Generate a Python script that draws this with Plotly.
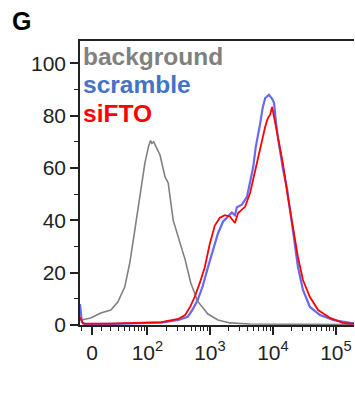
import numpy as np
import plotly.graph_objects as go

# x positions on the biexponential display scale (decades from 0; 10^n sits at T(10^n))
bg_x = [-0.19, -0.17, -0.02, 0.14, 0.30, 0.41, 0.52, 0.60, 0.68, 0.76, 0.84, 0.90, 0.93, 0.95, 0.98,
        1.02, 1.08, 1.16, 1.21, 1.29, 1.37, 1.48, 1.57, 1.68, 1.84, 2.00, 2.19, 2.51, 3.30, 4.16]
bg_y = [2.0, 1.9, 2.7, 4.6, 5.7, 8.8, 14.5, 23.7, 36.3, 49.0, 61.9, 68.5, 70.5, 69.5, 70.0,
        68.0, 65.0, 56.6, 54.3, 40.0, 33.7, 24.9, 16.0, 9.0, 4.2, 1.9, 0.8, 0.4, 0.3, 0.2]

scr_x = [-0.19, -0.16, -0.11, 0.30, 1.10, 1.37, 1.52, 1.60, 1.68, 1.76, 1.84, 1.92, 2.00, 2.08,
         2.16, 2.22, 2.27, 2.30, 2.38, 2.46, 2.56, 2.60, 2.67, 2.71, 2.75, 2.81, 2.86, 2.89, 2.92,
         2.95, 3.03, 3.10, 3.19, 3.27, 3.35, 3.46, 3.62, 3.83, 4.10, 4.16]
scr_y = [8.0, 1.0, 0.3, 0.4, 0.9, 1.9, 3.1, 6.0, 9.6, 15.0, 22.0, 29.0, 35.0, 39.5,
         41.5, 43.0, 42.0, 45.0, 46.0, 49.0, 60.4, 68.0, 77.0, 83.0, 86.8, 88.0, 86.5, 85.0, 78.0,
         72.0, 60.0, 51.6, 36.3, 22.2, 13.4, 6.9, 3.8, 1.9, 0.8, 0.7]

sifto_x = [-0.19, -0.14, 0.30, 1.10, 1.37, 1.48, 1.56, 1.63, 1.71, 1.79, 1.87, 1.95, 2.03, 2.11,
           2.19, 2.24, 2.27, 2.32, 2.43, 2.51, 2.59, 2.67, 2.75, 2.79, 2.83, 2.86, 2.90, 2.95,
           3.03, 3.11, 3.19, 3.27, 3.35, 3.46, 3.59, 3.78, 3.98, 4.16]
sifto_y = [3.0, 0.5, 0.5, 1.1, 2.3, 3.8, 7.0, 10.7, 16.0, 22.0, 31.0, 38.0, 41.0, 42.0,
           41.5, 40.0, 39.0, 42.8, 45.2, 50.5, 59.3, 68.0, 75.8, 79.0, 80.5, 83.4, 78.4, 72.0,
           62.0, 49.0, 37.5, 26.0, 17.2, 10.7, 5.7, 2.7, 0.8, 0.4]

major_vals = [0, 1e2, 1e3, 1e4, 1e5]
major_text = ["0", "10<sup>2</sup>", "10<sup>3</sup>", "10<sup>4</sup>", "10<sup>5</sup>"]
minor_vals = [-10] + [m * 10 ** e for e in (1, 2, 3, 4) for m in range(1, 10) if not (m == 1 and e > 1)]

A = 13.4
def T(v):
    return np.arcsinh(np.asarray(v, dtype=float) / (2 * A)) / np.log(10)

fig = go.Figure()
fig.add_trace(go.Scatter(x=bg_x, y=bg_y, mode="lines",
                         line=dict(color="#808080", width=1.6), showlegend=False))
fig.add_trace(go.Scatter(x=scr_x, y=scr_y, mode="lines",
                         line=dict(color="#6868F0", width=2.2), showlegend=False))
fig.add_trace(go.Scatter(x=sifto_x, y=sifto_y, mode="lines",
                         line=dict(color="#FF0000", width=1.8), showlegend=False))

font = "Liberation Sans, Arial, sans-serif"
fig.update_layout(
    width=355, height=396,
    margin=dict(l=80, r=1, t=41, b=71),
    paper_bgcolor="white", plot_bgcolor="white",
    font=dict(family=font, size=21, color="#222222"),
    xaxis=dict(range=[-0.19, 4.16], tickmode="array",
               tickvals=list(T(major_vals)), ticktext=major_text,
               ticks="outside", ticklen=8, tickwidth=1.5, tickcolor="#222",
               showline=True, linecolor="#222", linewidth=1.5, mirror=True,
               showgrid=False, zeroline=False,
               minor=dict(tickmode="array", tickvals=list(T(minor_vals)),
                          ticks="outside", ticklen=4, tickwidth=1.2, tickcolor="#222",
                          showgrid=False),
               tickfont=dict(size=21, color="#222")),
    yaxis=dict(range=[0, 108.6], tickmode="array", tickvals=[0, 20, 40, 60, 80, 100],
               ticks="outside", ticklen=8, tickwidth=1.5, tickcolor="#222",
               showline=True, linecolor="#222", linewidth=1.5,
               showgrid=False, zeroline=False,
               minor=dict(tickmode="array", tickvals=[10, 30, 50, 70, 90],
                          ticks="outside", ticklen=4, tickwidth=1.2, tickcolor="#222",
                          showgrid=False),
               tickfont=dict(size=21, color="#222")),
)

labels = [("background", "#808080", 56.6), ("scramble", "#4472C4", 84.6), ("siFTO", "#FF0000", 113.3)]
for txt, col, py in labels:
    fig.add_annotation(text=f"<b>{txt}</b>", xref="paper", yref="paper",
                       x=0, y=(325 - py) / 284, xanchor="left", yanchor="middle",
                       xshift=1, showarrow=False,
                       font=dict(family=font, size=24.5, color=col))

fig.add_annotation(text="<b>G</b>", xref="paper", yref="paper", x=-80 / 274, y=(325 - 21) / 284,
                   xanchor="left", yanchor="middle", xshift=10, showarrow=False,
                   font=dict(family=font, size=25, color="black"))

fig.write_html("out.html")
